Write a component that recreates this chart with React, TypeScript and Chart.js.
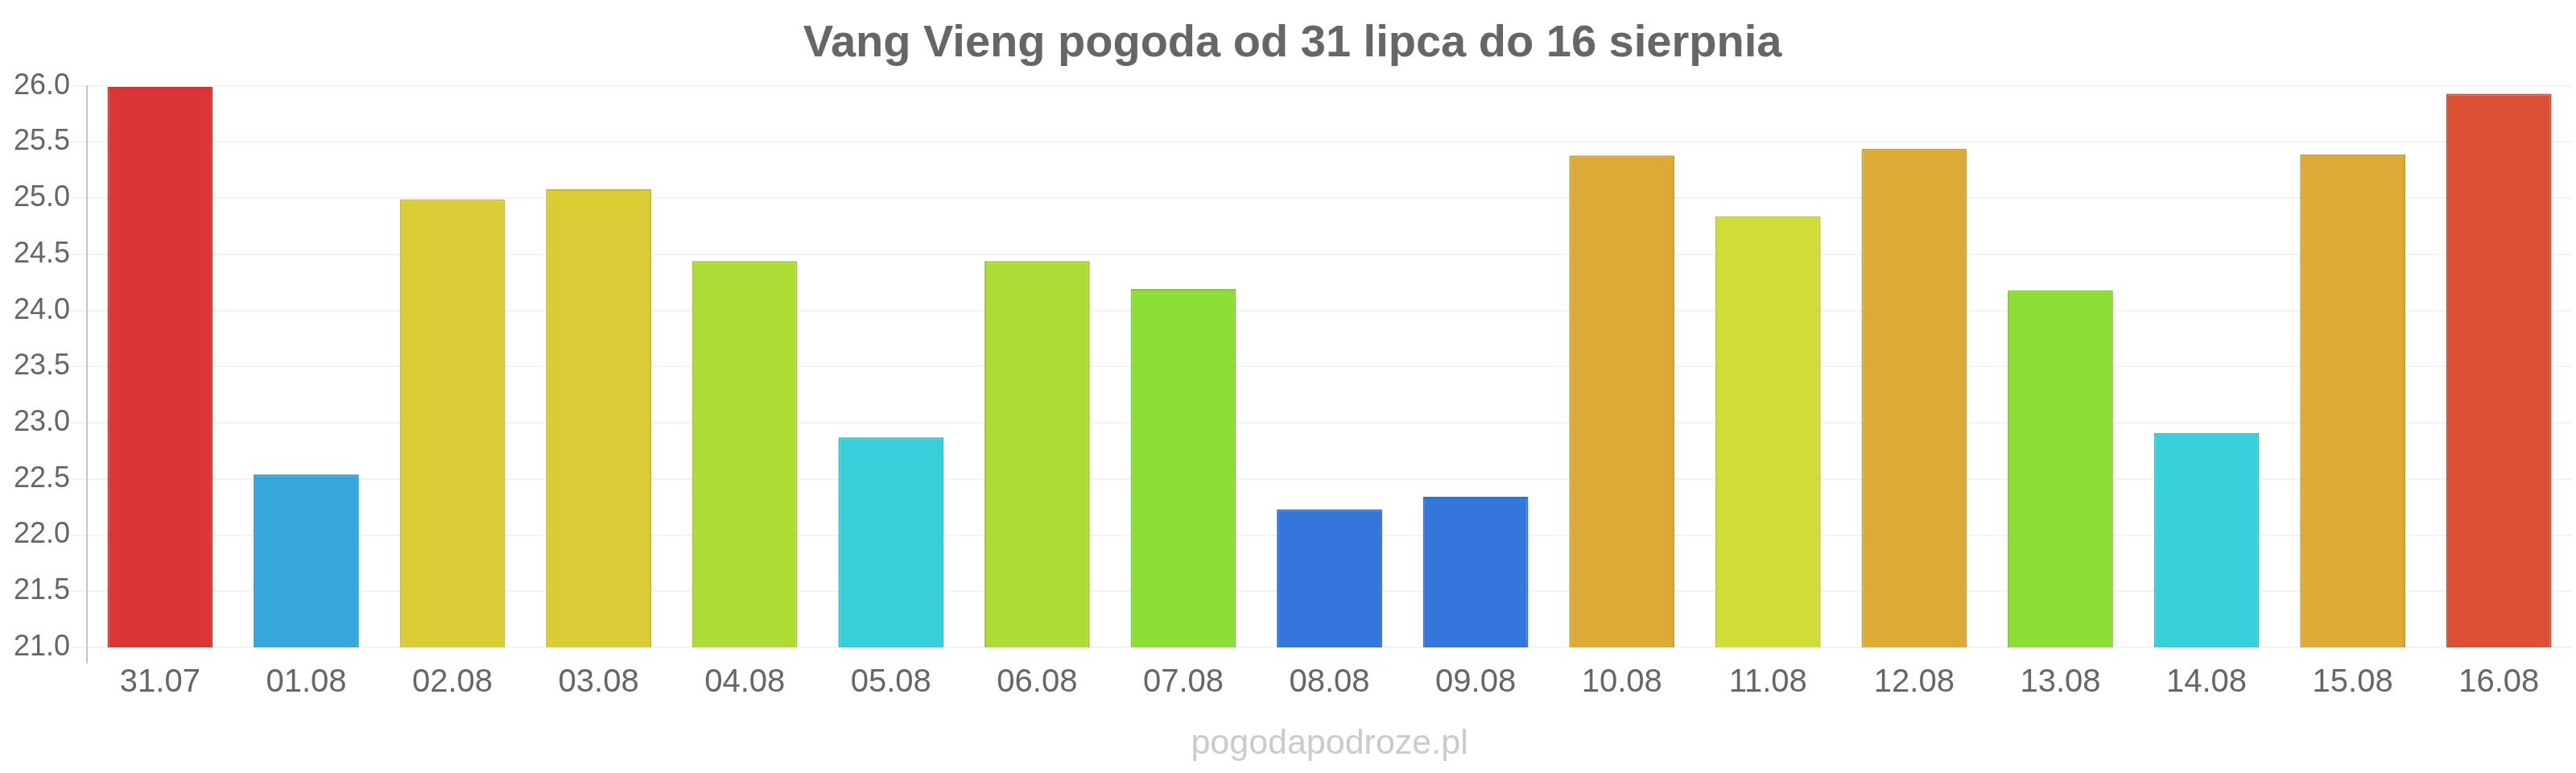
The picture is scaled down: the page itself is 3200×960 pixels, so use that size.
import React, { useEffect, useRef } from "react";
import { Chart, registerables } from "chart.js";

Chart.register(...registerables);

const categories = ["31.07", "01.08", "02.08", "03.08", "04.08", "05.08", "06.08", "07.08", "08.08", "09.08", "10.08", "11.08", "12.08", "13.08", "14.08", "15.08", "16.08"];
const temperatures = [25.99, 22.54, 24.99, 25.08, 24.44, 22.87, 24.44, 24.19, 22.23, 22.34, 25.38, 24.84, 25.44, 24.18, 22.91, 25.39, 25.93];
const barColors = ["#dc3535", "#36a7db", "#dbcb35", "#dbcb35", "#addd35", "#36cfda", "#addd35", "#8cdd35", "#3576dc", "#3576dc", "#dcaa35", "#d0dd37", "#dcaa35", "#8cdd35", "#36cfda", "#dcaa35", "#dd5035"];
const barBorders = ["#c93030", "#3199c9", "#c9b930", "#c9b930", "#9ec930", "#31bdc9", "#9ec930", "#7fc930", "#306cc9", "#306cc9", "#c99b30", "#bec930", "#c99b30", "#7fc930", "#31bdc9", "#c99b30", "#c94930"];
const yTicks = { min: 21, max: 26, step: 0.5 };
const titleText = "Vang Vieng pogoda od 31 lipca do 16 sierpnia";
const footerText = "pogodapodroze.pl";

const FONT = "'Liberation Sans', Arial, sans-serif";

export default function App() {
  const ref = useRef<HTMLCanvasElement | null>(null);
  useEffect(() => {
    if (!ref.current) return;
    const chart = new Chart(ref.current, {
      type: "bar",
      data: {
        labels: categories,
        datasets: [
          {
            data: temperatures,
            backgroundColor: barColors,
            borderColor: barBorders,
            borderWidth: 2,
          },
        ],
      },
      options: {
        animation: false,
        responsive: false,
        devicePixelRatio: 1,
        layout: { padding: { left: 16, right: 5, top: 0, bottom: 0 } },
        plugins: {
          legend: { display: false },
          tooltip: { enabled: false },
          title: {
            display: true,
            text: titleText,
            color: "#666666",
            font: { family: FONT, size: 56, weight: "bold" },
            padding: { top: 21, bottom: 18.5 },
          },
          subtitle: {
            display: true,
            position: "bottom",
            fullSize: false,
            text: footerText,
            color: "#cbcbcf",
            font: { family: FONT, size: 43, weight: "normal" },
            padding: { top: 26.4, bottom: 10 },
          },
        },
        scales: {
          x: {
            offset: true,
            grid: {
              display: true,
              drawOnChartArea: false,
              drawTicks: true,
              tickLength: 20,
              offset: true,
              color: (ctx: any) => (ctx.index === 0 ? "#c4c4c4" : "rgba(0,0,0,0)"),
              lineWidth: 2,
            },
            border: { display: false },
            ticks: {
              color: "#666666",
              font: { family: FONT, size: 40 },
              padding: 0,
              maxRotation: 0,
            },
          },
          y: {
            min: yTicks.min,
            max: yTicks.max,
            grid: {
              color: "#f3f3f3",
              lineWidth: 2,
              tickLength: 20,
              tickColor: "#f3f3f3",
            },
            border: { display: true, color: "#c4c4c4", width: 2 },
            ticks: {
              stepSize: yTicks.step,
              color: "#666666",
              font: { family: FONT, size: 36 },
              padding: 1,
              callback: (v: any) => Number(v).toFixed(1),
            },
          },
        },
      },
    });
    return () => chart.destroy();
  }, []);
  return (
    <div style={{ position: "absolute", left: 0, top: 0, width: 3200, height: 960, background: "#ffffff" }}>
      <canvas ref={ref} width={3200} height={960} style={{ display: "block", width: 3200, height: 960 }} />
    </div>
  );
}
